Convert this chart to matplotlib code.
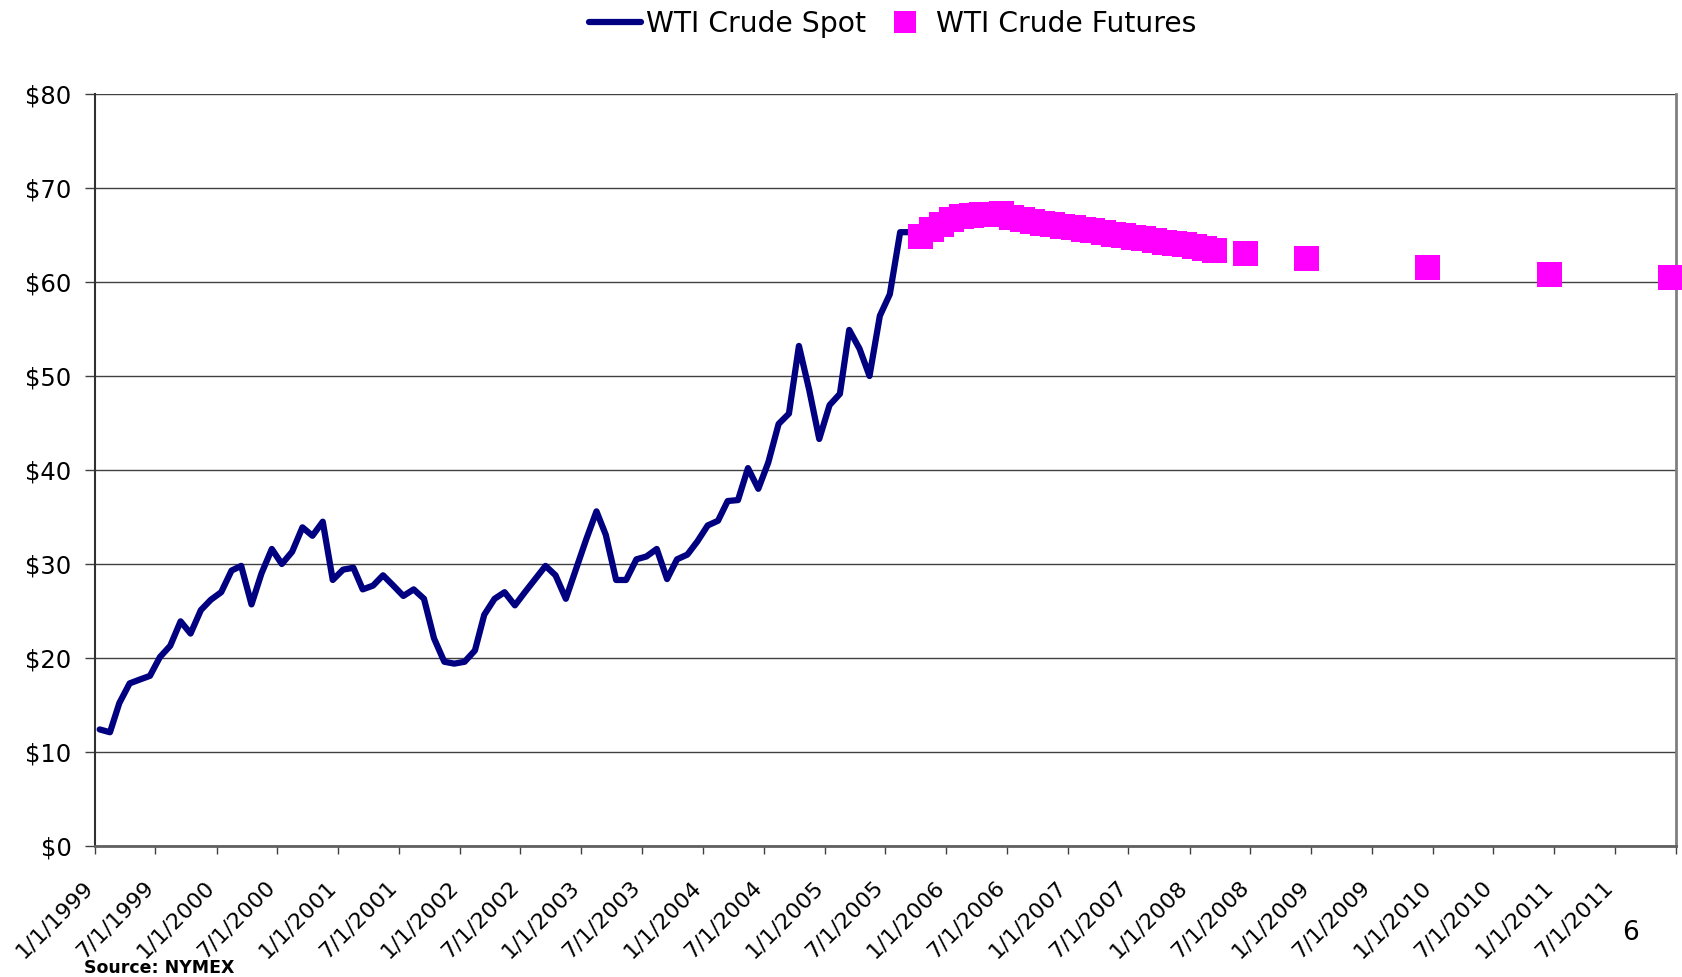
import matplotlib
matplotlib.use('Agg')
import matplotlib.pyplot as plt
import matplotlib.transforms as mtransforms
import pandas as pd

# monthly WTI spot, Jan 1999 .. Sep 2005 ($/bbl)
spot = [12.4, 12.1, 15.2, 17.3, 17.7, 18.1, 20.1, 21.3, 23.9, 22.6, 25.1, 26.2,
        27.0, 29.3, 29.8, 25.7, 29.0, 31.6, 30.0, 31.3, 33.9, 33.0, 34.5, 28.3,
        29.4, 29.6, 27.3, 27.7, 28.8, 27.7, 26.6, 27.3, 26.3, 22.1, 19.6, 19.4,
        19.6, 20.8, 24.6, 26.3, 27.0, 25.6, 27.0, 28.4, 29.8, 28.8, 26.3, 29.4,
        32.6, 35.6, 33.1, 28.3, 28.3, 30.5, 30.8, 31.6, 28.4, 30.5, 31.0, 32.4,
        34.1, 34.6, 36.7, 36.8, 40.2, 38.0, 40.8, 44.9, 46.0, 53.2, 48.5, 43.3,
        46.9, 48.1, 54.9, 52.9, 50.0, 56.4, 58.7, 65.3, 65.3]
spot_start = '1999-01-01'

# NYMEX futures strip: contract months and settle prices
fut_months = ['2005-10', '2005-11', '2005-12',
              '2006-01', '2006-02', '2006-03', '2006-04', '2006-05', '2006-06',
              '2006-07', '2006-08', '2006-09', '2006-10', '2006-11', '2006-12',
              '2007-01', '2007-02', '2007-03', '2007-04', '2007-05', '2007-06',
              '2007-07', '2007-08', '2007-09', '2007-10', '2007-11', '2007-12',
              '2008-01', '2008-02', '2008-03',
              '2008-06', '2008-12', '2009-12', '2010-12', '2011-12']
futures = [64.9, 65.6, 66.15,
           66.7, 67.0, 67.1, 67.2, 67.25, 67.3,
           66.9, 66.7, 66.5, 66.3, 66.15, 66.0,
           65.8, 65.65, 65.5, 65.3, 65.15, 65.0,
           64.8, 64.65, 64.5, 64.3, 64.15, 64.0,
           63.8, 63.6, 63.4,
           63.1, 62.6, 61.6, 60.9, 60.5]

# points sit mid-month on the date axis
spot_dates = pd.date_range(spot_start, periods=len(spot), freq='MS') + pd.Timedelta(days=14)
fut_dates = pd.to_datetime(fut_months) + pd.Timedelta(days=14)

tick_dates = pd.date_range('1999-01-01', '2012-01-01', freq='6MS')
tick_labels = [f'{d.month}/{d.day}/{d.year}' for d in tick_dates[:-1]] + ['']

W, H = 1682, 977
fig = plt.figure(figsize=(W / 100, H / 100), dpi=100)
ax = fig.add_axes([95 / W, 1 - 846 / H, (1676 - 95) / W, (846 - 94) / H])

ax.plot(spot_dates, spot, color='#000080', lw=4.5, solid_joinstyle='round',
        solid_capstyle='round', label='WTI Crude Spot', zorder=3)
ax.plot(fut_dates, futures, ls='none', marker='s', ms=18, mfc='#FF00FF',
        mec='#FF00FF', mew=0, label='WTI Crude Futures', clip_on=False, zorder=4)

ax.set_xlim(tick_dates[0], tick_dates[-1])
ax.set_ylim(0, 80)
ax.set_yticks(range(0, 81, 10))
ax.set_yticklabels([f'${v}' for v in range(0, 81, 10)])
ax.set_xticks(tick_dates)
ax.set_xticklabels(tick_labels, rotation=45, ha='right', va='bottom',
                   rotation_mode='anchor')

ax.yaxis.grid(True, color='#404040', lw=1)
ax.set_axisbelow(True)
ax.tick_params(axis='y', length=7, width=1, pad=10, labelsize=17.5, color='#404040')
ax.tick_params(axis='x', length=5.5, width=1, pad=26.8, labelsize=16, color='#404040')

# small sideways nudge of the slanted date labels
shift = mtransforms.ScaledTranslation(0.02, 0, fig.dpi_scale_trans)
for lbl in ax.get_xticklabels():
    lbl.set_transform(lbl.get_transform() + shift)

ax.spines['top'].set_visible(False)
ax.spines['right'].set_color('#808080')
ax.spines['right'].set_linewidth(2)
ax.spines['bottom'].set_color('#606060')
ax.spines['bottom'].set_linewidth(2)
ax.spines['left'].set_color('#303030')
ax.spines['left'].set_linewidth(1.5)

leg = fig.legend(loc='center', bbox_to_anchor=(0.5307, 0.9754), ncol=2,
                 frameon=False, fontsize=20.3, handlelength=1.85,
                 handletextpad=0.18, columnspacing=0.47)
leg.legend_handles[1].set_markersize(15.5)

fig.text(1630 / W, 1 - 933 / H, '6', fontsize=19, ha='center', va='center')
fig.text(84 / W, 1 - 968 / H, 'Source: NYMEX', fontsize=12.5, fontweight='bold',
         ha='left', va='center')

fig.savefig('out.png', dpi=100)
